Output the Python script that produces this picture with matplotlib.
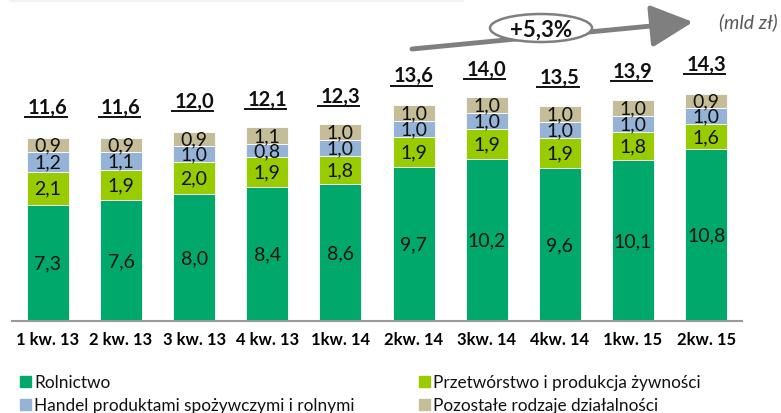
import numpy as np
from matplotlib import pyplot as plt
from matplotlib.patches import Ellipse, FancyArrowPatch, Rectangle

# quarterly output by activity (mld zł)
quarters = ['1 kw. 13', '2 kw. 13', '3 kw. 13', '4 kw. 13', '1kw. 14',
            '2kw. 14', '3kw. 14', '4kw. 14', '1kw. 15', '2kw. 15']
rolnictwo    = [7.3, 7.6, 8.0, 8.4, 8.6, 9.7, 10.2, 9.6, 10.1, 10.8]
przetworstwo = [2.1, 1.9, 2.0, 1.9, 1.8, 1.9, 1.9, 1.9, 1.8, 1.6]
handel       = [1.2, 1.1, 1.0, 0.8, 1.0, 1.0, 1.0, 1.0, 1.0, 1.0]
pozostale    = [0.9, 0.9, 0.9, 1.1, 1.0, 1.0, 1.0, 1.0, 1.0, 0.9]
totals       = [11.6, 11.6, 12.0, 12.1, 12.3, 13.6, 14.0, 13.5, 13.9, 14.3]
growth = '+5,3%'

series = [
    ('Rolnictwo', rolnictwo, '#00A86B'),
    ('Przetwórstwo i produkcja żywności', przetworstwo, '#99CC00'),
    ('Handel produktami spożywczymi i rolnymi', handel, '#95B3D7'),
    ('Pozostałe rodzaje działalności', pozostale, '#C4BD97'),
]

plt.rcParams['font.family'] = ['Lato', 'DejaVu Sans']

W, H = 781, 414
fig = plt.figure(figsize=(W/100, H/100), dpi=100)
ax = fig.add_axes([12/W, 1-322/H, 730/W, 322/H])

def fx(px):
    return px / W

def fy(py):
    return 1 - py / H

x = np.arange(len(quarters))
w = 0.575
bottom = np.zeros(len(quarters))
for name, vals, col in series:
    vals = np.array(vals)
    ax.bar(x, vals, w, bottom=bottom, color=col, edgecolor='white', lw=0.6)
    for xi, b, v in zip(x, bottom, vals):
        ax.text(xi, b + v/2, f'{v:.1f}'.replace('.', ','), ha='center', va='center',
                fontsize=14, color='#111111')
    bottom += vals

# totals, bold and underlined
for xi, t in zip(x, totals):
    y = t + 1.85
    ax.text(xi, y, f'{t:.1f}'.replace('.', ','), ha='center', va='center',
            fontsize=14.5, fontweight='bold', color='#111111')
    ax.plot([xi - 0.32, xi + 0.27], [y - 0.64, y - 0.64], color='#111111', lw=1.4,
            solid_capstyle='butt')

ax.set_xlim(-0.49, 9.49)
ax.set_ylim(0, 20.25)
ax.set_xticks(x)
ax.set_xticklabels(quarters, fontweight='bold', fontsize=12)
ax.tick_params(axis='x', length=0, pad=7)
ax.set_yticks([])
for s in ['left', 'right', 'top']:
    ax.spines[s].set_visible(False)
ax.spines['bottom'].set_color('#999999')
ax.spines['bottom'].set_linewidth(1.5)

# faint rule along the top edge
fig.add_artist(plt.Line2D([fx(10), fx(462)], [fy(1), fy(1)], color='#F2F2F2', lw=2))

# growth arrow with ellipse label
fig.patches.append(FancyArrowPatch(
    (fx(412), fy(50)), (fx(693), fy(23)), transform=fig.transFigure,
    arrowstyle='-|>,head_length=2.0,head_width=1.0', mutation_scale=13,
    color='#7F7F7F', lw=3.5, shrinkA=0, shrinkB=0))
fig.patches.append(Ellipse((fx(541), fy(29)), 102/W, 28/H,
                           transform=fig.transFigure, facecolor='white',
                           edgecolor='#7F7F7F', lw=1.8))
fig.text(fx(541), fy(30), growth, ha='center', va='center', fontsize=16,
         fontweight='bold', color='#111111')
fig.text(fx(778), fy(22), '(mld zł)', ha='right', va='center', fontsize=14,
         style='italic', color='#595959')

# legend in two columns
leg = [(20, 382, 0), (419, 382, 1), (20, 405, 2), (419, 405, 3)]
for px, py, i in leg:
    name, _, col = series[i]
    fig.patches.append(Rectangle((fx(px), fy(py + 6)), 11/W, 11/H,
                                 transform=fig.transFigure, color=col))
    fig.text(fx(px + 14), fy(py + 1), name, ha='left', va='center', fontsize=12.4,
             color='#111111')

plt.savefig('out.png', dpi=100)
